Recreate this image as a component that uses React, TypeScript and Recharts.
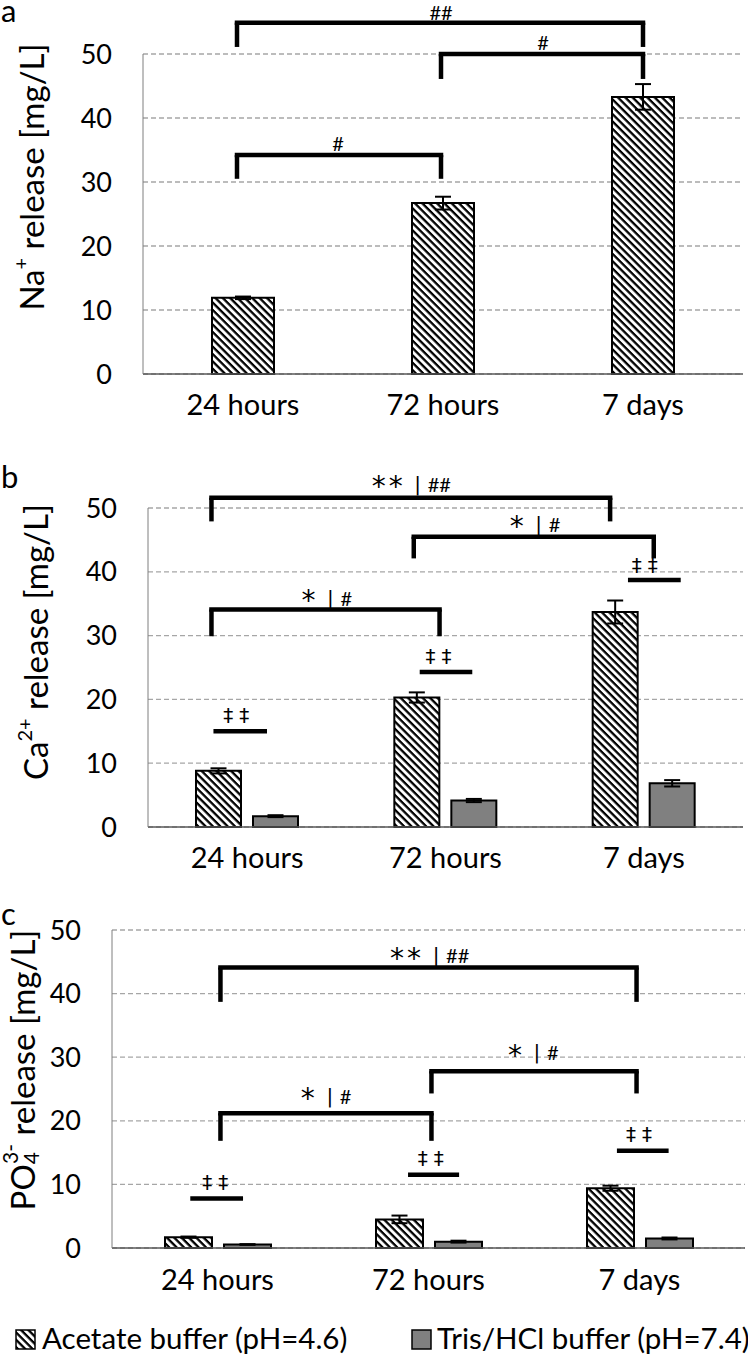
import React from 'react'
import {
  BarChart,
  Bar,
  XAxis,
  YAxis,
  CartesianGrid,
  ErrorBar,
  ReferenceLine,
  ReferenceDot,
} from 'recharts'

const FONT = 'Lato, "Open Sans", sans-serif'
const SYM_FONT = '"DejaVu Sans", sans-serif'

// --- data (mg/L) ---
const categories = ['24 hours', '72 hours', '7 days']
const categoryPos = [0.5, 1.5, 2.5]
const yTicks = [0, 10, 20, 30, 40, 50]

const naAcetate = [11.9, 26.7, 43.3]
const naAcetateErr = [0.2, 1.0, 2.0]

const caAcetate = [8.8, 20.3, 33.7]
const caAcetateErr = [0.4, 0.8, 1.8]
const caTris = [1.7, 4.15, 6.85]
const caTrisErr = [0.15, 0.25, 0.5]

const poAcetate = [1.7, 4.5, 9.4]
const poAcetateErr = [0.1, 0.6, 0.4]
const poTris = [0.55, 1.0, 1.5]
const poTrisErr = [0.05, 0.15, 0.15]

// --- significance annotations (x in category units 0..3, y in mg/L) ---
type Bracket = { from: number; to: number; top: number; end: number }
type Line = { from: number; to: number; y: number }
type Tag = { x: number; y: number; text: string }
type PairTag = { x: number; y: number; left: string; right: string }

const naBrackets: Bracket[] = [
  { from: 0.47, to: 2.5, top: 54.9, end: 51.1 },
  { from: 1.49, to: 2.5, top: 50.0, end: 46.1 },
  { from: 0.47, to: 1.49, top: 34.2, end: 30.5 },
]
const naTags: Tag[] = [
  { x: 1.49, y: 56.6, text: '##' },
  { x: 2.0, y: 51.9, text: '#' },
  { x: 0.975, y: 36.1, text: '#' },
]

const caBrackets: Bracket[] = [
  { from: 0.32, to: 2.33, top: 51.6, end: 47.9 },
  { from: 1.34, to: 2.55, top: 45.5, end: 42.1 },
  { from: 0.32, to: 1.47, top: 34.1, end: 29.9 },
]
const caLines: Line[] = [
  { from: 0.33, to: 0.6, y: 15.0 },
  { from: 1.37, to: 1.635, y: 24.3 },
  { from: 2.42, to: 2.686, y: 38.7 },
]
const caPairs: PairTag[] = [
  { x: 1.36, y: 53.8, left: '**', right: '##' },
  { x: 1.97, y: 47.5, left: '*', right: '#' },
  { x: 0.92, y: 35.9, left: '*', right: '#' },
]
const caDaggers: Tag[] = [
  { x: 0.46, y: 17.5, text: '‡‡' },
  { x: 1.48, y: 26.8, text: '‡‡' },
  { x: 2.52, y: 41.1, text: '‡‡' },
]

const poBrackets: Bracket[] = [
  { from: 0.514, to: 2.486, top: 44.1, end: 38.7 },
  { from: 1.514, to: 2.486, top: 27.8, end: 24.3 },
  { from: 0.514, to: 1.514, top: 21.2, end: 16.85 },
]
const poLines: Line[] = [
  { from: 0.371, to: 0.621, y: 7.8 },
  { from: 1.403, to: 1.645, y: 11.5 },
  { from: 2.393, to: 2.638, y: 15.3 },
]
const poPairs: PairTag[] = [
  { x: 1.536, y: 46.0, left: '**', right: '##' },
  { x: 2.014, y: 30.8, left: '*', right: '#' },
  { x: 1.032, y: 23.9, left: '*', right: '#' },
]
const poDaggers: Tag[] = [
  { x: 0.503, y: 10.4, text: '‡‡' },
  { x: 1.525, y: 14.1, text: '‡‡' },
  { x: 2.512, y: 17.9, text: '‡‡' },
]

const naData = categories.map((name, i) => ({
  name,
  pos: categoryPos[i],
  acetate: naAcetate[i],
  acetateErr: naAcetateErr[i],
}))
const caData = categories.map((name, i) => ({
  name,
  pos: categoryPos[i],
  acetate: caAcetate[i],
  acetateErr: caAcetateErr[i],
  tris: caTris[i],
  trisErr: caTrisErr[i],
}))
const poData = categories.map((name, i) => ({
  name,
  pos: categoryPos[i],
  acetate: poAcetate[i],
  acetateErr: poAcetateErr[i],
  tris: poTris[i],
  trisErr: poTrisErr[i],
}))

const STROKE = 4.5

function bracketLines(list: Bracket[], prefix: string) {
  return list.flatMap((b, i) => [
    <ReferenceLine
      key={`${prefix}${i}l`}
      xAxisId="n"
      ifOverflow="visible"
      segment={[{ x: b.from, y: b.end }, { x: b.from, y: b.top }]}
      stroke="#000"
      strokeWidth={STROKE}
    />,
    <ReferenceLine
      key={`${prefix}${i}r`}
      xAxisId="n"
      ifOverflow="visible"
      segment={[{ x: b.to, y: b.end }, { x: b.to, y: b.top }]}
      stroke="#000"
      strokeWidth={STROKE}
    />,
    <ReferenceLine
      key={`${prefix}${i}t`}
      xAxisId="n"
      ifOverflow="visible"
      segment={[{ x: b.from, y: b.top }, { x: b.to, y: b.top }]}
      stroke="#000"
      strokeWidth={STROKE}
      strokeLinecap="square"
    />,
  ])
}

function flatLines(list: Line[], prefix: string) {
  return list.map((l, i) => (
    <ReferenceLine
      key={`${prefix}${i}`}
      xAxisId="n"
      ifOverflow="visible"
      segment={[{ x: l.from, y: l.y }, { x: l.to, y: l.y }]}
      stroke="#000"
      strokeWidth={STROKE}
    />
  ))
}

function tagDots(list: Tag[], prefix: string, font: string, size: number, spacing = 0) {
  return list.map((t, i) => (
    <ReferenceDot
      key={`${prefix}${i}`}
      xAxisId="n"
      x={t.x}
      y={t.y}
      r={0}
      ifOverflow="visible"
      shape={(p: any) => (
        <text
          x={p.cx}
          y={p.cy}
          textAnchor="middle"
          dominantBaseline="central"
          fontFamily={font}
          fontSize={size}
          letterSpacing={spacing}
          fill="#000"
        >
          {t.text}
        </text>
      )}
    />
  ))
}

function pairDots(list: PairTag[], prefix: string) {
  return list.map((t, i) => (
    <ReferenceDot
      key={`${prefix}${i}`}
      xAxisId="n"
      x={t.x}
      y={t.y}
      r={0}
      ifOverflow="visible"
      shape={(p: any) => (
        <g>
          <text
            x={p.cx - 12}
            y={p.cy + 3}
            textAnchor="end"
            dominantBaseline="central"
            fontFamily={SYM_FONT}
            fontSize={28}
            letterSpacing={3}
            fill="#000"
          >
            {t.left}
          </text>
          <text
            x={p.cx}
            y={p.cy}
            textAnchor="middle"
            dominantBaseline="central"
            fontFamily={SYM_FONT}
            fontSize={20}
            fill="#000"
          >
            |
          </text>
          <text
            x={p.cx + 10}
            y={p.cy}
            textAnchor="start"
            dominantBaseline="central"
            fontFamily={FONT}
            fontSize={20}
            fill="#000"
          >
            {t.right}
          </text>
        </g>
      )}
    />
  ))
}

function YTitle({ cx, cy, children }: { cx: number; cy: number; children: React.ReactNode }) {
  return (
    <text
      x={cx}
      y={cy}
      transform={`rotate(-90 ${cx} ${cy})`}
      textAnchor="middle"
      dominantBaseline="central"
      fontFamily={FONT}
      fontSize={33}
      fill="#000"
    >
      {children}
    </text>
  )
}

const tickStyle = { fontFamily: FONT, fontSize: 29, fill: '#000' }
const yTickStyle = { fontFamily: FONT, fontSize: 27, fill: '#000' }

function commonAxes(yWidth: number, tickMargin: number, xHeight: number, title: React.ReactNode) {
  return [
    <CartesianGrid
      key="grid"
      vertical={false}
      stroke="#a6a6a6"
      strokeDasharray="5 3"
      strokeWidth={1.3}
    />,
    <XAxis
      key="x"
      dataKey="name"
      interval={0}
      height={xHeight}
      tickLine={false}
      tickMargin={tickMargin}
      axisLine={{ stroke: '#595959', strokeWidth: 1.5 }}
      tick={tickStyle}
    />,
    <XAxis
      key="xn"
      xAxisId="n"
      dataKey="pos"
      type="number"
      domain={[0, 3]}
      allowDataOverflow
      hide
    />,
    <YAxis
      key="y"
      domain={[0, 50]}
      ticks={yTicks}
      interval={0}
      width={yWidth}
      tickLine={false}
      tickMargin={25}
      axisLine={{ stroke: '#7f7f7f', strokeWidth: 1 }}
      tick={yTickStyle}
      label={{ content: () => title }}
    />,
  ]
}

export default function App() {
  return (
    <div style={{ position: 'absolute', left: 0, top: 0, width: 748, height: 1356, background: '#fff' }}>
      <svg width={0} height={0} style={{ position: 'absolute' }}>
        <defs>
          <pattern
            id="hatch"
            patternUnits="userSpaceOnUse"
            width={5.2}
            height={5.2}
            patternTransform="rotate(45)"
          >
            <rect width={5.2} height={5.2} fill="#fff" />
            <rect width={5.2} height={2.3} fill="#000" />
          </pattern>
        </defs>
      </svg>

      <div style={{ position: 'absolute', left: 0, top: 0 }}>
        <BarChart width={748} height={440} data={naData} margin={{ top: 54, right: 5, bottom: 16, left: 0 }}>
          {commonAxes(143, 14, 50, (
            <YTitle cx={31} cy={177}>
              Na<tspan dy={-11} fontSize={20}>+</tspan>
              <tspan dy={11}> release [mg/L]</tspan>
            </YTitle>
          ))}
          <Bar dataKey="acetate" fill="url(#hatch)" stroke="#000" strokeWidth={2} barSize={62} isAnimationActive={false}>
            <ErrorBar dataKey="acetateErr" direction="y" width={8} strokeWidth={2} stroke="#000" isAnimationActive={false} />
          </Bar>
          {bracketLines(naBrackets, 'nb')}
          {tagDots(naTags, 'nt', FONT, 20)}
        </BarChart>
      </div>

      <div style={{ position: 'absolute', left: 0, top: 450 }}>
        <BarChart
          width={748}
          height={440}
          data={caData}
          barGap={12}
          margin={{ top: 58, right: 5, bottom: 13, left: 0 }}
        >
          {commonAxes(148, 14, 50, (
            <YTitle cx={35} cy={192}>
              Ca<tspan dy={-11} fontSize={20}>2+</tspan>
              <tspan dy={11}> release [mg/L]</tspan>
            </YTitle>
          ))}
          <Bar dataKey="acetate" fill="url(#hatch)" stroke="#000" strokeWidth={2} barSize={45} isAnimationActive={false}>
            <ErrorBar dataKey="acetateErr" direction="y" width={8} strokeWidth={2} stroke="#000" isAnimationActive={false} />
          </Bar>
          <Bar dataKey="tris" fill="#808080" stroke="#000" strokeWidth={2} barSize={45} isAnimationActive={false}>
            <ErrorBar dataKey="trisErr" direction="y" width={8} strokeWidth={2} stroke="#000" isAnimationActive={false} />
          </Bar>
          {bracketLines(caBrackets, 'cb')}
          {flatLines(caLines, 'cl')}
          {pairDots(caPairs, 'cp')}
          {tagDots(caDaggers, 'cd', SYM_FONT, 20, 6)}
        </BarChart>
      </div>

      <div style={{ position: 'absolute', left: 0, top: 900 }}>
        <BarChart
          width={748}
          height={400}
          data={poData}
          barGap={12}
          margin={{ top: 30, right: 3, bottom: 7, left: 0 }}
        >
          {commonAxes(112, 15, 45, (
            <YTitle cx={22} cy={170}>
              PO<tspan dy={8} fontSize={21}>4</tspan>
              <tspan dx={-12} dy={-21} fontSize={21}>3-</tspan>
              <tspan dy={13}> release [mg/L]</tspan>
            </YTitle>
          ))}
          <Bar dataKey="acetate" fill="url(#hatch)" stroke="#000" strokeWidth={2} barSize={47} isAnimationActive={false}>
            <ErrorBar dataKey="acetateErr" direction="y" width={8} strokeWidth={2} stroke="#000" isAnimationActive={false} />
          </Bar>
          <Bar dataKey="tris" fill="#808080" stroke="#000" strokeWidth={2} barSize={47} isAnimationActive={false}>
            <ErrorBar dataKey="trisErr" direction="y" width={8} strokeWidth={2} stroke="#000" isAnimationActive={false} />
          </Bar>
          {bracketLines(poBrackets, 'pb')}
          {flatLines(poLines, 'pl')}
          {pairDots(poPairs, 'pp')}
          {tagDots(poDaggers, 'pd', SYM_FONT, 20, 6)}
        </BarChart>
      </div>

      {/* panel letters */}
      <svg width={40} height={1356} style={{ position: 'absolute', left: 0, top: 0, pointerEvents: 'none' }}>
        <text x={1} y={22} fontFamily={FONT} fontSize={31} fill="#000">a</text>
        <text x={1} y={488} fontFamily={FONT} fontSize={31} fill="#000">b</text>
        <text x={1} y={925} fontFamily={FONT} fontSize={31} fill="#000">c</text>
      </svg>

      <svg width={748} height={56} style={{ position: 'absolute', left: 0, top: 1300 }}>
        <rect x={16} y={30} width={19} height={19} fill="url(#hatch)" stroke="#000" strokeWidth={1.5} />
        <text x={42} y={49} fontFamily={FONT} fontSize={29.5} fill="#000">
          Acetate buffer (pH=4.6)
        </text>
        <rect x={412} y={30} width={19} height={19} fill="#808080" stroke="#000" strokeWidth={1.5} />
        <text x={437} y={49} fontFamily={FONT} fontSize={29.5} fill="#000">
          Tris/HCl buffer (pH=7.4)
        </text>
      </svg>
    </div>
  )
}
